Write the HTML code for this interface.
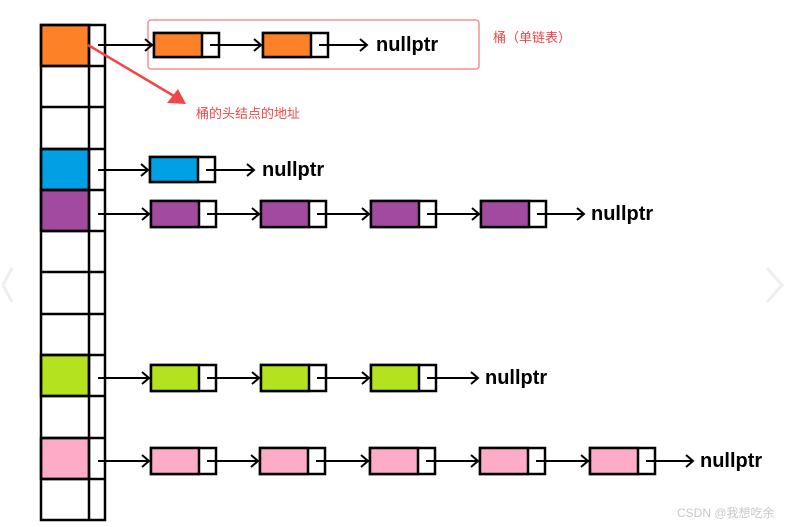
<!DOCTYPE html>
<html><head><meta charset="utf-8"><style>
html,body{margin:0;padding:0;background:#fff;width:797px;height:527px;overflow:hidden}
svg{display:block}
.n{font-family:"Liberation Sans",sans-serif;font-weight:bold;font-size:20px;fill:#000}
.r{font-family:"Liberation Sans","Noto Sans CJK SC",sans-serif;font-size:13px;fill:#f04848}
</style></head><body>
<svg width="797" height="527" viewBox="0 0 797 527" xmlns="http://www.w3.org/2000/svg">
<defs>
<marker id="a" markerWidth="12" markerHeight="14" refX="10" refY="7" orient="auto" markerUnits="userSpaceOnUse">
<polyline points="3,1 10,7 3,13" fill="none" stroke="#000" stroke-width="2"/>
</marker>
</defs>
<g stroke="#000" stroke-width="2.5">
<rect x="41" y="25" width="48" height="41" fill="#fd8127"/>
<rect x="41" y="149" width="48" height="41" fill="#01a0e5"/>
<rect x="41" y="190" width="48" height="41" fill="#a24a9f"/>
<rect x="41" y="355" width="48" height="41" fill="#b4e21f"/>
<rect x="41" y="438" width="48" height="41" fill="#feabc8"/>
<rect x="41" y="25" width="64" height="495" fill="none"/>
<line x1="89" y1="25" x2="89" y2="520"/>
<line x1="41" y1="66" x2="105" y2="66"/>
<line x1="41" y1="107" x2="105" y2="107"/>
<line x1="41" y1="149" x2="105" y2="149"/>
<line x1="41" y1="190" x2="105" y2="190"/>
<line x1="41" y1="231" x2="105" y2="231"/>
<line x1="41" y1="272" x2="105" y2="272"/>
<line x1="41" y1="314" x2="105" y2="314"/>
<line x1="41" y1="355" x2="105" y2="355"/>
<line x1="41" y1="396" x2="105" y2="396"/>
<line x1="41" y1="438" x2="105" y2="438"/>
<line x1="41" y1="479" x2="105" y2="479"/>
</g>
<rect x="148" y="20" width="331" height="49" rx="3" fill="none" stroke="#f79090" stroke-width="1.5"/>
<g stroke="#000" stroke-width="2.5">
<rect x="154" y="33" width="65" height="24" fill="#fff"/><rect x="154" y="33" width="48" height="24" fill="#fd8127"/>
<rect x="263" y="33" width="65" height="24" fill="#fff"/><rect x="263" y="33" width="48" height="24" fill="#fd8127"/>
<rect x="150" y="157" width="65" height="25" fill="#fff"/><rect x="150" y="157" width="48" height="25" fill="#01a0e5"/>
<rect x="151" y="201" width="65" height="26" fill="#fff"/><rect x="151" y="201" width="48" height="26" fill="#a24a9f"/>
<rect x="261" y="201" width="65" height="26" fill="#fff"/><rect x="261" y="201" width="48" height="26" fill="#a24a9f"/>
<rect x="371" y="201" width="65" height="26" fill="#fff"/><rect x="371" y="201" width="48" height="26" fill="#a24a9f"/>
<rect x="481" y="201" width="65" height="26" fill="#fff"/><rect x="481" y="201" width="48" height="26" fill="#a24a9f"/>
<rect x="151" y="365" width="65" height="26" fill="#fff"/><rect x="151" y="365" width="48" height="26" fill="#b4e21f"/>
<rect x="261" y="365" width="65" height="26" fill="#fff"/><rect x="261" y="365" width="48" height="26" fill="#b4e21f"/>
<rect x="371" y="365" width="65" height="26" fill="#fff"/><rect x="371" y="365" width="48" height="26" fill="#b4e21f"/>
<rect x="151" y="448" width="65" height="26" fill="#fff"/><rect x="151" y="448" width="48" height="26" fill="#feabc8"/>
<rect x="260" y="448" width="65" height="26" fill="#fff"/><rect x="260" y="448" width="48" height="26" fill="#feabc8"/>
<rect x="370" y="448" width="65" height="26" fill="#fff"/><rect x="370" y="448" width="48" height="26" fill="#feabc8"/>
<rect x="480" y="448" width="65" height="26" fill="#fff"/><rect x="480" y="448" width="48" height="26" fill="#feabc8"/>
<rect x="590" y="448" width="65" height="26" fill="#fff"/><rect x="590" y="448" width="48" height="26" fill="#feabc8"/>
</g>
<g stroke="#000" stroke-width="2" marker-end="url(#a)">
<line x1="98" y1="45" x2="152" y2="45"/><line x1="210" y1="45" x2="261" y2="45"/><line x1="319" y1="45" x2="367" y2="45"/>
<line x1="98" y1="170" x2="148" y2="170"/><line x1="206" y1="170" x2="254" y2="170"/>
<line x1="98" y1="214" x2="149" y2="214"/><line x1="207" y1="214" x2="259" y2="214"/><line x1="317" y1="214" x2="369" y2="214"/><line x1="427" y1="214" x2="479" y2="214"/><line x1="537" y1="214" x2="584" y2="214"/>
<line x1="98" y1="378" x2="149" y2="378"/><line x1="207" y1="378" x2="259" y2="378"/><line x1="317" y1="378" x2="369" y2="378"/><line x1="427" y1="378" x2="478" y2="378"/>
<line x1="98" y1="461" x2="149" y2="461"/><line x1="207" y1="461" x2="258" y2="461"/><line x1="316" y1="461" x2="368" y2="461"/><line x1="426" y1="461" x2="478" y2="461"/><line x1="536" y1="461" x2="588" y2="461"/><line x1="646" y1="461" x2="693" y2="461"/>
</g>
<text class="n" x="376" y="51">nullptr</text>
<text class="n" x="262" y="176">nullptr</text>
<text class="n" x="591" y="220">nullptr</text>
<text class="n" x="485" y="384">nullptr</text>
<text class="n" x="700" y="467">nullptr</text>
<line x1="88" y1="45" x2="174" y2="96" stroke="#f04848" stroke-width="2.5"/>
<polygon points="186,104 167,103 178,89" fill="#f04848"/>
<text class="r" x="196" y="118">桶的头结点的地址</text>
<text class="r" x="493" y="42">桶（单链表）</text>
<polyline points="12,268 3,285 12,302" fill="none" stroke="#eee" stroke-width="3"/>
<polyline points="767,268 782,285 767,302" fill="none" stroke="#eee" stroke-width="3"/>
<text x="677" y="517" font-family="Liberation Sans,Noto Sans CJK SC,sans-serif" font-size="12" fill="#c8c8c8">CSDN @我想吃余</text>
</svg>
</body></html>
